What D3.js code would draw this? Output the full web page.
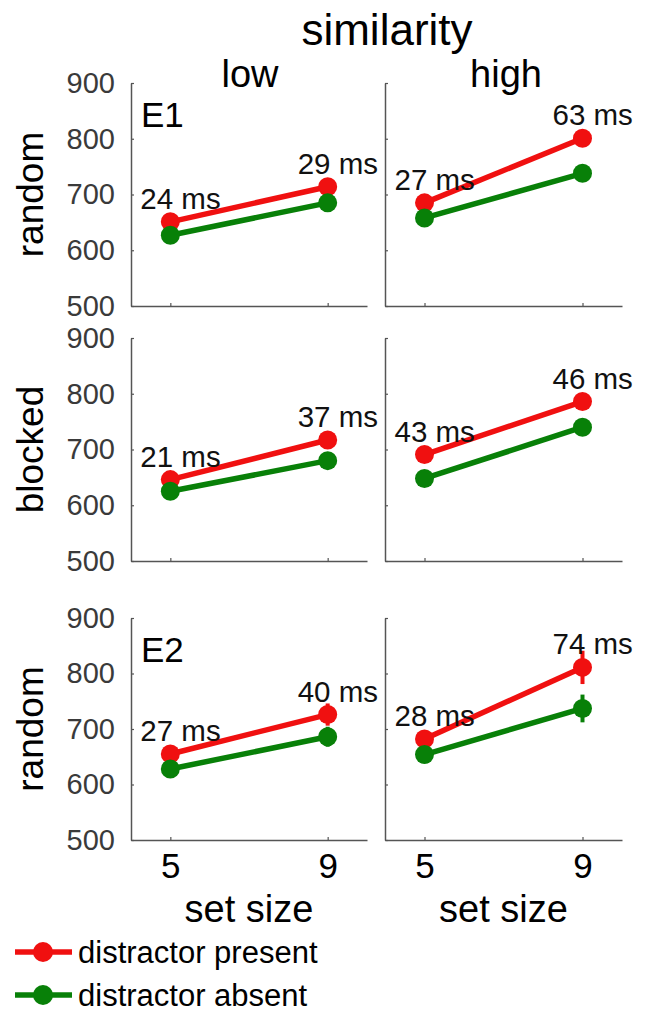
<!DOCTYPE html>
<html>
<head>
<meta charset="utf-8">
<script src="https://cdn.jsdelivr.net/npm/d3@7"></script>
<style>
  html, body { margin: 0; padding: 0; background: #fff; }
  svg { display: block; font-family: "Liberation Sans", Arial, sans-serif; }
</style>
</head>
<body>
<svg id="chart" width="651" height="1013"></svg>
<script>
// ---- data ----
const setSizes = [5, 9];
const similarityLevels = ["low", "high"];
const rowLabels = ["random", "blocked", "random"];
const rowTags = ["E1", "", "E2"];
const yTicks = [500, 600, 700, 800, 900];
const xTicks = [5, 9];
// panels in order: row1-low, row1-high, row2-low, row2-high, row3-low, row3-high
const presentRT = [[651, 714], [685, 801], [646, 717], [691, 786], [655, 726], [682, 811]];
const absentRT  = [[627, 685], [658, 738], [625, 680], [648, 740], [628, 686], [654, 737]];
const presentErr = [[5, 6], [5, 6], [5, 6], [5, 6], [8, 20], [8, 30]];
const absentErr  = [[5, 6], [5, 6], [5, 6], [5, 6], [8, 18], [8, 25]];
const effects = [[24, 29], [27, 63], [21, 37], [43, 46], [27, 40], [28, 74]];
const legendLabels = ["distractor present", "distractor absent"];

// ---- layout ----
const RED = "#f01010", GREEN = "#088008", AXIS = "#555";
const colX = [[131, 367], [385, 622]];
const rowY = [[83, 306], [338, 561], [618, 840]];

const svg = d3.select("#chart");

// titles
svg.append("text").attr("x", 387).attr("y", 45).attr("text-anchor", "middle")
  .attr("font-size", 44).attr("fill", "#000").text("similarity");
similarityLevels.forEach((s, c) => {
  svg.append("text").attr("x", [250, 506][c]).attr("y", 87).attr("text-anchor", "middle")
    .attr("font-size", 38).attr("fill", "#000").text(s);
});

rowLabels.forEach((lab, r) => {
  const cy = (rowY[r][0] + rowY[r][1]) / 2;
  svg.append("text").attr("transform", `translate(43,${cy}) rotate(-90)`)
    .attr("text-anchor", "middle").attr("font-size", 37).attr("fill", "#000").text(lab);
});

for (let r = 0; r < 3; r++) {
  for (let c = 0; c < 2; c++) {
    const p = r * 2 + c;
    const x = d3.scaleLinear().domain([4, 10]).range(colX[c]);
    const y = d3.scaleLinear().domain([500, 900]).range([rowY[r][1], rowY[r][0]]);
    const g = svg.append("g");

    // y axis
    const ya = g.append("g").attr("transform", `translate(${colX[c][0]},0)`)
      .call(d3.axisLeft(y).tickValues(yTicks).tickSizeInner(-3).tickSizeOuter(0)
        .tickFormat(c === 0 ? d3.format("d") : ""));
    ya.select(".domain").attr("stroke", AXIS).attr("stroke-width", 1.5);
    ya.selectAll(".tick line").attr("stroke", AXIS).attr("stroke-width", 1.2);
    ya.selectAll(".tick text").attr("x", -16).attr("font-size", 29).attr("fill", "#3a3a3a")
      .attr("font-family", "Liberation Sans, Arial, sans-serif");

    // x axis
    const xa = g.append("g").attr("transform", `translate(0,${rowY[r][1]})`)
      .call(d3.axisBottom(x).tickValues(xTicks).tickSizeInner(-3).tickSizeOuter(0)
        .tickFormat(r === 2 ? d3.format("d") : ""));
    xa.select(".domain").attr("stroke", AXIS).attr("stroke-width", 1.5);
    xa.selectAll(".tick line").attr("stroke", AXIS).attr("stroke-width", 1.2);
    xa.selectAll(".tick text").attr("y", 13).attr("dy", "0.71em").attr("font-size", 35).attr("fill", "#000")
      .attr("font-family", "Liberation Sans, Arial, sans-serif");

    const line = d3.line().x((d, i) => x(setSizes[i])).y(d => y(d));
    const series = [
      { vals: presentRT[p], err: presentErr[p], color: RED },
      { vals: absentRT[p], err: absentErr[p], color: GREEN }
    ];
    series.forEach(s => {
      g.append("path").attr("d", line(s.vals)).attr("fill", "none")
        .attr("stroke", s.color).attr("stroke-width", 5.5);
      s.vals.forEach((v, i) => {
        g.append("line").attr("x1", x(setSizes[i])).attr("x2", x(setSizes[i]))
          .attr("y1", y(v - s.err[i])).attr("y2", y(v + s.err[i]))
          .attr("stroke", s.color).attr("stroke-width", 4);
        g.append("circle").attr("cx", x(setSizes[i])).attr("cy", y(v)).attr("r", 9.5)
          .attr("fill", s.color);
      });
    });

    // effect labels
    effects[p].forEach((e, i) => {
      g.append("text").attr("x", x(setSizes[i]) - 30).attr("y", y(presentRT[p][i]) - 13)
        .attr("font-size", 29.5).attr("fill", "#111").text(e + " ms");
    });

    if (c === 0 && rowTags[r]) {
      g.append("text").attr("x", 141).attr("y", rowY[r][0] + 44)
        .attr("font-size", 35).attr("fill", "#000").text(rowTags[r]);
    }
    if (r === 2) {
      g.append("text").attr("x", x(7)).attr("y", 922).attr("text-anchor", "middle")
        .attr("font-size", 38).attr("fill", "#000").text("set size");
    }
  }
}

// legend
const legColors = [RED, GREEN];
legendLabels.forEach((lab, i) => {
  const ly = 952 + i * 43;
  svg.append("line").attr("x1", 15).attr("x2", 72).attr("y1", ly).attr("y2", ly)
    .attr("stroke", legColors[i]).attr("stroke-width", 5.5);
  svg.append("circle").attr("cx", 43).attr("cy", ly).attr("r", 10).attr("fill", legColors[i]);
  svg.append("text").attr("x", 78).attr("y", ly + 11).attr("font-size", 31).attr("fill", "#000").text(lab);
});
</script>
</body>
</html>
